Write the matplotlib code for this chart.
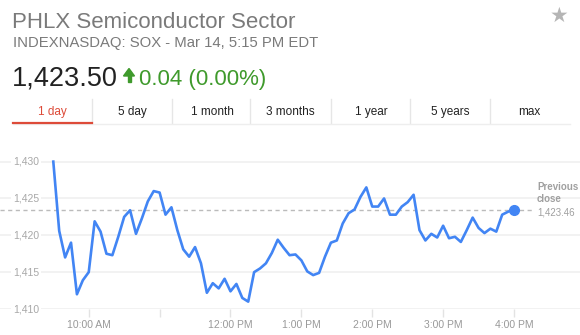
import numpy as np
import matplotlib.pyplot as plt
from matplotlib.patches import Polygon, Rectangle

plt.rcParams['font.family'] = ['Liberation Sans', 'DejaVu Sans']

W, H = 580, 335

# intraday values, one every 5 minutes from 9:30 to 16:00
minutes = np.arange(0, 391, 5)
values = np.array([
    1430.0, 1420.6, 1417.0, 1419.0, 1412.0, 1413.9, 1415.0, 1421.9, 1420.5, 1417.5,
    1417.3, 1419.8, 1422.5, 1423.4, 1420.2, 1422.3, 1424.6, 1426.0, 1425.8, 1422.8,
    1423.8, 1420.7, 1418.1, 1417.1, 1418.4, 1416.2, 1412.2, 1413.5, 1412.8, 1414.1,
    1412.4, 1413.4, 1411.5, 1411.0, 1415.0, 1415.5, 1416.2, 1417.6, 1419.4, 1418.3,
    1417.3, 1417.4, 1416.6, 1415.1, 1414.6, 1414.9, 1417.1, 1419.0, 1419.3, 1421.6,
    1423.0, 1423.5, 1425.2, 1426.5, 1423.9, 1423.9, 1425.0, 1422.8, 1422.8, 1423.9,
    1424.5, 1425.5, 1420.7, 1419.3, 1420.2, 1419.7, 1421.3, 1419.6, 1419.8, 1419.1,
    1420.7, 1422.4, 1421.0, 1420.3, 1420.9, 1420.5, 1422.8, 1423.2, 1423.5,
])
prev_close = 1423.46
y_ticks = [1410, 1415, 1420, 1425, 1430]
x_ticks = [30, 90, 150, 210, 270, 330, 390]
x_labels = ['10:00 AM', '', '12:00 PM', '1:00 PM', '2:00 PM', '3:00 PM', '4:00 PM']
tabs = ['1 day', '5 day', '1 month', '3 months', '1 year', '5 years', 'max']
tab_centers = [52, 132, 212, 290, 371, 450, 529]


def px(x, y):
    return x / W, 1 - y / H


fig = plt.figure(figsize=(W / 100, H / 100), dpi=100)

# header
fig.text(*px(12, 28), 'PHLX Semiconductor Sector', fontsize=16, color='#7a7a7a', va='baseline')
fig.text(*px(13, 46.5), 'INDEXNASDAQ: SOX - Mar 14, 5:15 PM EDT', fontsize=10.7, color='#7a7a7a', va='baseline')
fig.text(*px(12, 85), '1,423.50', fontsize=19.5, color='#222222', va='baseline')
fig.text(*px(139, 85), '0.04 (0.00%)', fontsize=16, color='#3f9a2c', va='baseline')
fig.patches.append(Polygon([px(123.5, 76), px(134.5, 76), px(129, 68.5)], closed=True,
                           transform=fig.transFigure, color='#3f9a2c'))
fig.patches.append(Rectangle(px(127.5, 82), 3 / W, 6.5 / H, transform=fig.transFigure, color='#3f9a2c'))
fig.text(*px(559.5, 16), '★', fontsize=15, color='#b5b5b5', ha='center', va='center', family='DejaVu Sans')

# tabs
for name, cx in zip(tabs, tab_centers):
    fig.text(*px(cx, 115), name, fontsize=8.5, ha='center', va='baseline',
             color='#dd4b39' if name == '1 day' else '#222222')
for sx in [92, 172, 250, 331, 410, 490]:
    fig.add_artist(plt.Line2D([sx / W] * 2, [1 - 99 / H, 1 - 123 / H], color='#e6e6e6', lw=1))
fig.add_artist(plt.Line2D([13 / W, 570 / W], [1 - 123.5 / H] * 2, color='#eeeeee', lw=1))
fig.add_artist(plt.Line2D([13 / W, 92 / W], [1 - 123 / H] * 2, color='#dd4b39', lw=1.6))

# chart
ppm = 460.7 / 390  # pixels per minute
ax = fig.add_axes([0, (H - 309) / H, 1, (309 - 150) / H])
ax.set_xlim(-53.3 / ppm, (W - 53.3) / ppm)
ax.set_ylim(1410, 1410 + 159 / 7.37)
for s in ax.spines.values():
    s.set_visible(False)
for v in y_ticks:
    ax.axhline(v, color='#efefef', lw=1.1, zorder=0)
    ax.text(13 / W, v, f'{v:,}', transform=ax.get_yaxis_transform(), fontsize=7.5, color='#a8a8a8',
            va='center', ha='left', bbox=dict(facecolor='white', edgecolor='none', pad=1.5), zorder=1)
ax.set_yticks([])
ax.set_xticks(x_ticks)
ax.set_xticklabels(x_labels)
ax.tick_params(axis='x', length=6, width=1, color='#e3e3e3', labelsize=7.5, labelcolor='#999999', pad=2)

ax.axhline(prev_close, xmax=532 / W, color='#bbbbbb', lw=1, ls=(0, (3, 2.5)), zorder=1)
ax.plot(minutes, values, color='#4285f4', lw=1.9, zorder=3, clip_on=False)
ax.plot(minutes[-1], values[-1], 'o', color='#4285f4', ms=7, zorder=4, clip_on=False)


def pyv(y):
    return 1410 + (309 - y) / 7.37


tr = ax.get_yaxis_transform()
ax.text(537 / W, pyv(190), 'Previous', transform=tr, fontsize=7, fontweight='bold', color='#a0a0a0', va='baseline')
ax.text(537 / W, pyv(202.5), 'close', transform=tr, fontsize=7, fontweight='bold', color='#a0a0a0', va='baseline')
ax.text(537 / W, pyv(215.5), '1,423.46', transform=tr, fontsize=7, color='#a0a0a0', va='baseline')

fig.savefig('out.png', dpi=100)
